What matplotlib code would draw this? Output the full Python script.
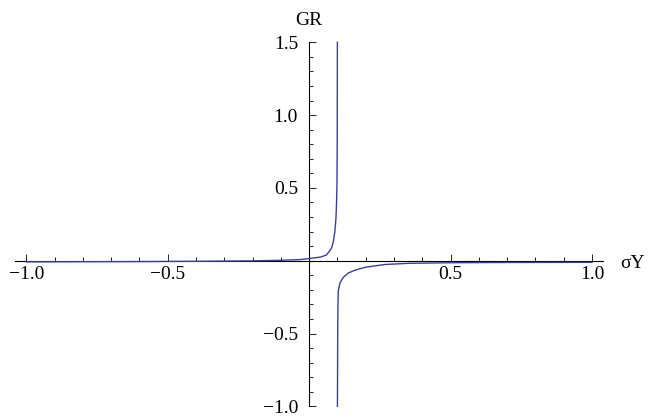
import numpy as np
import matplotlib
matplotlib.use("Agg")
import matplotlib.pyplot as plt
from matplotlib.ticker import MultipleLocator, FixedLocator

plt.rcParams['font.family'] = ['Liberation Serif', 'DejaVu Serif']
plt.rcParams['axes.unicode_minus'] = True

# branch left of the pole (sigma Y < 0.1)
left_x = [-1.0, -0.8, -0.6, -0.4, -0.2, -0.1, -0.03, 0.0, 0.04, 0.06, 0.072,
          0.08, 0.086, 0.091, 0.095, 0.097, 0.0985, 0.0993, 0.0997, 0.0999]
left_y = [-0.008, -0.007, -0.006, -0.004, -0.001, 0.003, 0.008, 0.015, 0.025,
          0.038, 0.065, 0.09, 0.134, 0.2, 0.295, 0.4, 0.53, 0.8, 1.2, 1.5]

# branch right of the pole
right_x = [0.1001, 0.1005, 0.101, 0.1015, 0.102, 0.1025, 0.103, 0.109, 0.121,
           0.139, 0.162, 0.198, 0.268, 0.35, 0.5, 0.7, 1.0]
right_y = [-1.0, -0.8, -0.5, -0.4, -0.3, -0.26, -0.21, -0.153, -0.114, -0.084,
           -0.065, -0.045, -0.026, -0.018, -0.014, -0.012, -0.011]

x_major = [-1.0, -0.5, 0.5, 1.0]
y_major = [-1.0, -0.5, 0.5, 1.0, 1.5]

line_color = '#3d3d99'

fig = plt.figure(figsize=(6.52, 4.19), dpi=100)
ax = fig.add_axes([0.02285, 0.0303, 0.9025, 0.8687])

ax.plot(left_x, left_y, color=line_color, lw=1.0, clip_on=False)
ax.plot(right_x, right_y, color=line_color, lw=1.0, clip_on=False)

ax.set_xlim(-1.04, 1.04)
ax.set_ylim(-1.0, 1.5)

# axes cross at the origin
ax.spines['left'].set_position(('data', 0))
ax.spines['bottom'].set_position(('data', 0))
ax.spines['top'].set_visible(False)
ax.spines['right'].set_visible(False)
for s in ('left', 'bottom'):
    ax.spines[s].set_linewidth(0.8)
    ax.spines[s].set_zorder(1)

ax.xaxis.set_major_locator(FixedLocator(x_major))
ax.yaxis.set_major_locator(FixedLocator(y_major))
ax.xaxis.set_minor_locator(MultipleLocator(0.1))
ax.yaxis.set_minor_locator(MultipleLocator(0.1))
ax.set_xticklabels([f"{v:.1f}".replace('-', '\u2212') for v in x_major])
ax.set_yticklabels([f"{v:.1f}".replace('-', '\u2212') for v in y_major])

ax.tick_params(which='both', direction='in', width=0.6, labelsize=14)
ax.tick_params(which='major', length=5)
ax.tick_params(which='minor', length=3)
ax.tick_params(axis='x', pad=4)
ax.tick_params(axis='y', pad=8)

ax.text(0, 1.652, 'GR', ha='center', va='center', fontsize=14, clip_on=False)
ax.text(1.099, -0.02, '\u03c3Y', ha='left', va='center', fontsize=14, clip_on=False)

fig.savefig('out.png', dpi=100)
